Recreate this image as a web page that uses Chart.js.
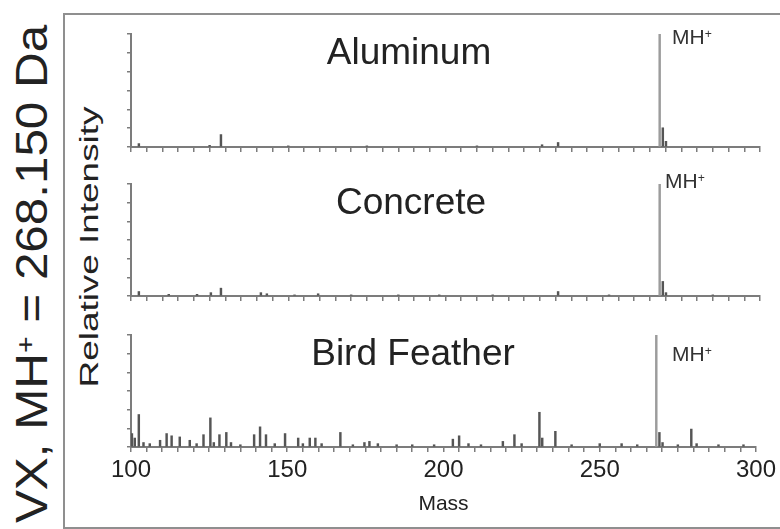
<!DOCTYPE html>
<html>
<head>
<meta charset="utf-8">
<script src="https://cdn.jsdelivr.net/npm/chart.js@4.4.0/dist/chart.umd.min.js"></script>
<style>
  body { margin: 0; background: #fff; width: 780px; height: 529px; position: relative; overflow: hidden;
         font-family: "Liberation Sans", Arial, sans-serif; color: #222; }
  #frame { position: absolute; left: 63px; top: 13px; width: 760px; height: 512px; border: 2px solid #8f8f8f; }
  canvas { position: absolute; left: 0; }
  .lbl { position: absolute; white-space: nowrap; line-height: 1; transform: translate(-50%, -50%); }
  .mh { position: absolute; white-space: nowrap; line-height: 1; font-size: 21px; transform: translateY(-50%); color: #333; }
  .sup { font-size: 0.58em; position: relative; top: -0.5em; }
</style>
</head>
<body>
<div id="frame"></div>

<div class="lbl" id="vx" style="left:32px; top:274px; font-size:44px;">VX, MH<span class="sup">+</span> = 268.150 Da</div>
<div class="lbl" id="ri" style="left:89px; top:247px; font-size:26px;">Relative Intensity</div>

<canvas id="c1" width="780" height="140" style="top:20px"></canvas>
<canvas id="c2" width="780" height="139" style="top:170px"></canvas>
<canvas id="c3" width="780" height="201" style="top:321px"></canvas>

<div class="lbl" style="left:409px; top:51px; font-size:37px;">Aluminum</div>
<div class="lbl" style="left:411px; top:201px; font-size:37px;">Concrete</div>
<div class="lbl" style="left:413px; top:352px; font-size:37px;">Bird Feather</div>

<div class="mh" style="left:672px; top:36px;">MH<span class="sup">+</span></div>
<div class="mh" style="left:665px; top:180px;">MH<span class="sup">+</span></div>
<div class="mh" style="left:672px; top:353px;">MH<span class="sup">+</span></div>

<script>
// spectra (mass, relative intensity %)
const alMass = [102.5, 125, 128.6, 150, 175, 210, 230.7, 235.8, 268.1, 269.1, 270.1];
const alInt  = [3, 1.5, 11, 1, 1, 1, 2, 4, 100, 17, 5];

const coMass = [102.5, 112, 121, 125.4, 128.6, 141.3, 143.2, 152, 159.5, 170, 185, 198, 215, 235.8, 252, 268.1, 269.1, 270.1, 285];
const coInt  = [4, 1.5, 1.5, 3, 7, 3, 2, 1, 2, 1, 1, 1, 1, 4, 1, 100, 13, 3, 1];

const bfMass = [100.3, 101.2, 102.5, 104, 106, 109.3, 111.4, 113, 115.6, 118.8, 121, 123.2, 125.4, 126.5, 128.3, 130.5,
                132, 135, 139.4, 141.3, 143.2, 146, 149.3, 153.5, 155, 157.2, 159, 161, 167, 171, 174.7, 176.3, 179,
                185, 190, 197, 203, 205, 208, 212, 219, 222.7, 225, 230.7, 231.6, 235.8, 241, 250, 257, 262,
                268.1, 269.1, 270.1, 275, 279.3, 281, 288, 296];
const bfInt  = [12, 8, 29, 4, 3, 6, 12, 10, 9, 6, 3, 11, 26, 4, 11, 13,
                4, 2, 11, 18, 11, 3, 12, 8, 3, 8, 8, 3, 13, 2, 4, 5, 3,
                2, 2, 2, 7, 10, 3, 2, 5, 11, 3, 31, 8, 14, 2, 3, 3, 2,
                100, 13, 4, 2, 16, 3, 2, 2];

const massMin = 100, massMax = 300, massStep = 5;
const massLabels = [100, 150, 200, 250, 300];
const yTicks = [0, 1, 2, 3, 4, 5, 6]; // sixths of full scale

const axisColor = '#7c7c7c';

function makeChart(id, mass, inten, bottom) {
  const ctx = document.getElementById(id);
  return new Chart(ctx, {
    type: 'bar',
    data: {
      datasets: [{
        data: mass.map((m, i) => ({ x: m, y: inten[i] })),
        backgroundColor: c => (c.raw && c.raw.y > 50 ? '#9c9c9c' : '#555555'),
        barThickness: 1.8,
        grouped: false
      }]
    },
    options: {
      responsive: false,
      animation: false,
      layout: { padding: { left: 0, right: 20, top: 14, bottom: 0 } },
      plugins: { legend: { display: false }, tooltip: { enabled: false } },
      scales: {
        x: {
          type: 'linear', min: massMin, max: massMax, offset: false,
          grid: { offset: false, drawOnChartArea: false, drawTicks: true, tickLength: 5, color: axisColor, lineWidth: 1.5 },
          border: { display: true, color: axisColor, width: 2 },
          ticks: {
            stepSize: massStep, autoSkip: false, maxRotation: 0, padding: 4,
            color: '#222', font: { size: 24, family: '"Liberation Sans", Arial, sans-serif' },
            callback: v => (bottom && massLabels.includes(v) ? String(v) : '')
          },
          title: {
            display: bottom, text: 'Mass', color: '#222',
            font: { size: 21, family: '"Liberation Sans", Arial, sans-serif' },
            padding: { top: 0, bottom: 5 }
          },
          afterFit: s => { s.height = bottom ? 75 : 13; }
        },
        y: {
          type: 'linear', min: 0, max: 100,
          grid: { drawOnChartArea: false, drawTicks: true, tickLength: 4, color: axisColor, lineWidth: 1.5 },
          border: { display: true, color: axisColor, width: 2 },
          ticks: { display: false },
          afterBuildTicks: s => { s.ticks = yTicks.map(t => ({ value: t * 100 / 6 })); },
          afterFit: s => { s.width = 131; }
        }
      }
    }
  });
}

makeChart('c1', alMass, alInt, false);
makeChart('c2', coMass, coInt, false);
makeChart('c3', bfMass, bfInt, true);

// stretch the rotated labels along their reading direction to match the figure
function fitRot(id, len) {
  const el = document.getElementById(id);
  const w = el.offsetWidth;
  el.style.transform = 'translate(-50%,-50%) rotate(-90deg) scaleX(' + (len / w) + ')';
}
fitRot('vx', 498);
fitRot('ri', 281);
</script>
</body>
</html>
